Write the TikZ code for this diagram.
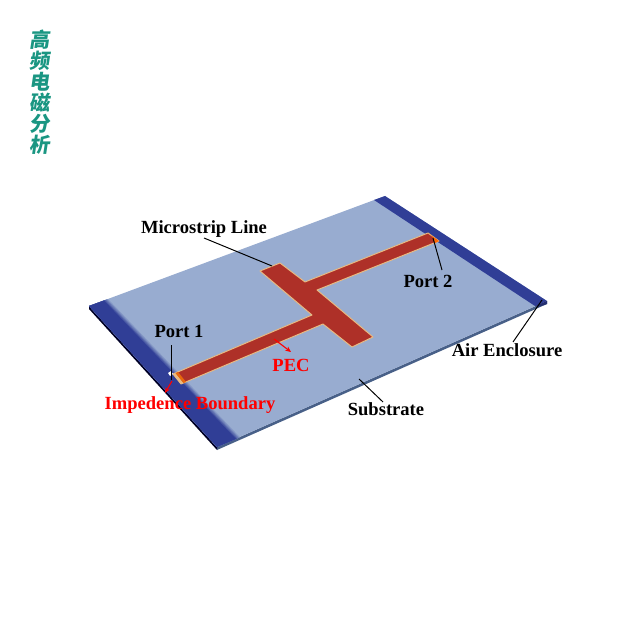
\documentclass[tikz,border=0pt]{standalone}
\usepackage{fontspec}
\setmainfont{Liberation Serif}
\newfontfamily\cjk[FakeSlant=0.15]{Noto Sans CJK SC}
\usetikzlibrary{arrows.meta}
\definecolor{substrate}{RGB}{152,172,208}
\definecolor{airblue}{RGB}{48,62,150}
\definecolor{sideblue}{RGB}{72,96,136}
\definecolor{stripred}{RGB}{174,48,40}
\definecolor{stripedge}{RGB}{232,186,130}
\definecolor{titlegreen}{RGB}{26,150,130}
\tikzset{
    lbl/.style={font=\fontsize{13.2}{15}\selectfont\bfseries,inner sep=0pt},
    redlbl/.style={lbl,text=red},
    leader/.style={draw=black,line width=0.7pt},
    redarrow/.style={draw=red,line width=0.8pt,-{Stealth[length=4pt,width=3.5pt]}}
}
\begin{document}
\begin{tikzpicture}[x=0.25mm,y=-0.25mm]
    \useasboundingbox (0,0) rectangle (640,640);
    % board
    \fill[sideblue] (217,447) -- (547,301) -- (547,304) -- (217,450) -- cycle;
    \fill[black!85!blue] (89,306) -- (217,447) -- (217,450) -- (89,309) -- cycle;
    \fill[substrate] (89,306) -- (385,196) -- (547,301) -- (217,447) -- cycle;
    % air enclosure bands
    \foreach \d/\c in {4/18,3/38,2/58,1/80}
        \fill[airblue!\c!substrate] (89,306) -- (104+\d,300.5-0.37*\d) -- (236+\d,439-0.44*\d) -- (217,447) -- cycle;
    \fill[airblue] (89,306) -- (104,300.5) -- (236,439) -- (217,447) -- cycle;
    \fill[airblue] (374,200) -- (385,196) -- (547,301) -- (535,306) -- cycle;
    \fill[airblue!75!black] (547,301) -- (535,306) -- (538,307) -- (547,304) -- cycle;
    % strip
    \filldraw[fill=stripred,draw=stripedge,line width=0.7pt,line join=round]
        (173,374) -- (312,315) -- (260,271) -- (280,263) -- (305,282) -- (428,233)
        -- (439,241) -- (317,290) -- (373,337) -- (352,347) -- (323,324) -- (181,384) -- cycle;
    \fill[white] (168,373) -- (171,371) -- (173,374) -- (170,376) -- cycle;
    \fill[stripedge] (173,374) -- (175.5,373) -- (183.5,383) -- (181,384) -- cycle;
    \fill[orange!70!stripred] (175.5,373) -- (178,372) -- (186,382) -- (183.5,383) -- cycle;
    \fill[orange!80!red] (432,236) -- (428,233) -- (439,241) -- (435,243) -- cycle;
    % title
    \node[text=titlegreen,align=center,inner sep=0pt,font=\cjk\bfseries\fontsize{14.5}{15}\selectfont] (title) at (40,92)
        {高\\频\\电\\磁\\分\\析};
    % labels
    \node[lbl] (micro) at (204,229) {Microstrip Line};
    \node[lbl] (port1) at (179,331) {Port 1};
    \node[lbl] (port2) at (428,281) {Port 2};
    \node[lbl] (air) at (507,350) {Air Enclosure};
    \node[lbl] (sub) at (386,409) {Substrate};
    \node[redlbl] (pec) at (291,365) {PEC};
    \node[redlbl] (imp) at (190,405) {Impedence Boundary};
    % leader ends
    \coordinate (microstart) at (204,238);
    \coordinate (microend) at (272,266);
    \coordinate (port1start) at (171,345);
    \coordinate (port1end) at (171,380);
    \coordinate (port2start) at (442,270);
    \coordinate (port2end) at (433,238);
    \coordinate (airstart) at (513,342);
    \coordinate (airend) at (542,300);
    \coordinate (substart) at (383,402);
    \coordinate (subend) at (359,379);
    \coordinate (pecstart) at (274,339);
    \coordinate (pecend) at (291,352);
    \coordinate (impstart) at (172,381);
    \coordinate (impend) at (165,393);
    % leaders
    \draw[leader] (microstart) -- (microend);
    \draw[leader] (port1start) -- (port1end);
    \draw[leader] (port2start) -- (port2end);
    \draw[leader] (airstart) -- (airend);
    \draw[leader] (substart) -- (subend);
    \draw[redarrow] (pecstart) -- (pecend);
    \draw[redarrow] (impstart) -- (impend);
\end{tikzpicture}
\end{document}
